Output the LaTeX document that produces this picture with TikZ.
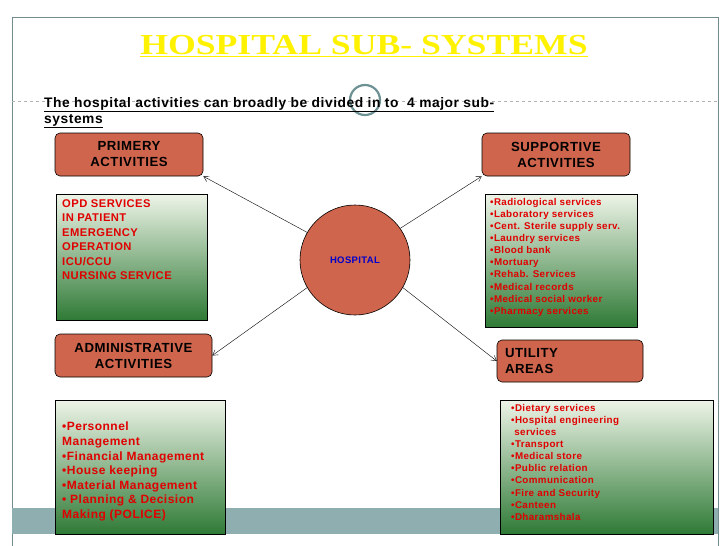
\documentclass[tikz,border=0pt]{standalone}
\usepackage{fontspec}
\usepackage{graphicx}
\setmainfont[LetterSpace=4]{Liberation Sans}
\newfontfamily\titlefont{Liberation Serif}
\usetikzlibrary{arrows.meta}
\definecolor{coral}{HTML}{D0654D}
\definecolor{lgreen}{HTML}{EEF4E8}
\definecolor{dgreen}{HTML}{2F7A36}
\definecolor{txtred}{HTML}{E00000}
\definecolor{teal}{HTML}{8FAEB0}
\definecolor{ringc}{HTML}{6E9294}
\begin{document}
\begin{tikzpicture}[x=1pt,y=-1pt,
  cbox/.style={draw=black,fill=coral,rounded corners=5pt,line width=0.6pt,align=center,font=\bfseries\fontsize{13.2}{16}\selectfont},
  gbox/.style={draw=black,line width=0.6pt,top color=lgreen,bottom color=dgreen},
  gtext/.style={anchor=north west,align=left,text=txtred,font=\bfseries\fontsize{11.2}{14.5}\selectfont,inner sep=0pt},
  arr/.style={-{Straight Barb[length=5pt,width=6pt]},line width=0.4pt}]
\useasboundingbox (0,0) rectangle (728,546);
\fill[white] (0,0) rectangle (728,546);
% frame
\draw[teal!80!black,line width=0.6pt] (12,546) -- (12,17) -- (718,17) -- (718,546);
\fill[teal] (12,508) rectangle (718,534);
\draw[gray!60,dashed,line width=0.4pt] (12,101) -- (718,101);
\draw[ringc,line width=2.2pt] (365,100) circle (15);
% title
\node (title) at (364,46) {\titlefont\bfseries\fontsize{29}{32}\selectfont\color{yellow}\scalebox{1.23}[1]{\underline{HOSPITAL SUB- SYSTEMS}}};
\node[anchor=north west,inner sep=0pt,align=left,font=\bfseries\fontsize{13.8}{16}\selectfont] (sub) at (44,97)
 {\underline{The hospital activities can broadly be divided in to\ \ 4 major sub-}\\\underline{systems}};
% boxes
\node[cbox,minimum width=148,minimum height=43] (prim) at (129,154.5) {PRIMERY\\ACTIVITIES};
\node[cbox,minimum width=148,minimum height=43] (supp) at (556,154.5) {SUPPORTIVE\\ACTIVITIES};
\node[cbox,minimum width=157,minimum height=43] (admin) at (133.5,355.5) {ADMINISTRATIVE\\ACTIVITIES};
\node[cbox,minimum width=146,minimum height=42,align=left,text width=130] (util) at (570,361) {UTILITY\\AREAS};
% green boxes
\draw[gbox] (56,194) rectangle (207,320);
\node[gtext] (opd) at (62,199) {OPD SERVICES\\IN PATIENT\\EMERGENCY\\OPERATION\\ICU/CCU\\NURSING SERVICE};
\draw[gbox] (485,194) rectangle (637,327);
\node[gtext,font=\bfseries\fontsize{9.8}{12.1}\selectfont] (suppl) at (490,198) {•Radiological services\\•Laboratory services\\•Cent. Sterile supply serv.\\•Laundry services\\•Blood bank\\•Mortuary\\•Rehab. Services\\•Medical records\\•Medical social worker\\•Pharmacy services};
\draw[gbox] (55,400) rectangle (225,534);
\node[gtext,font=\bfseries\fontsize{12}{14.6}\selectfont] (adml) at (62,422) {•Personnel\\Management\\•Financial Management\\•House keeping\\•Material Management\\• Planning \& Decision\\Making (POLICE)};
\draw[gbox] (500,400) rectangle (713,534);
\node[gtext,font=\bfseries\fontsize{9.8}{12.1}\selectfont] (utill) at (511,404) {•Dietary services\\•Hospital engineering\\\ services\\•Transport\\•Medical store\\•Public relation\\•Communication\\•Fire and Security\\•Canteen\\•Dharamshala};
% hospital
\node[draw=black,fill=coral,circle,minimum size=110,inner sep=0pt,line width=0.6pt,font=\bfseries\fontsize{9.5}{10}\selectfont,text=blue!80!black] (hosp) at (355,260) {HOSPITAL};
\draw[arr] (hosp.150) -- (prim.south east);
\draw[arr] (hosp.35) -- (supp.south west);
\draw[arr] (hosp.210) -- (admin.east);
\draw[arr] (hosp.330) -- (util.west);
\end{tikzpicture}
\end{document}
